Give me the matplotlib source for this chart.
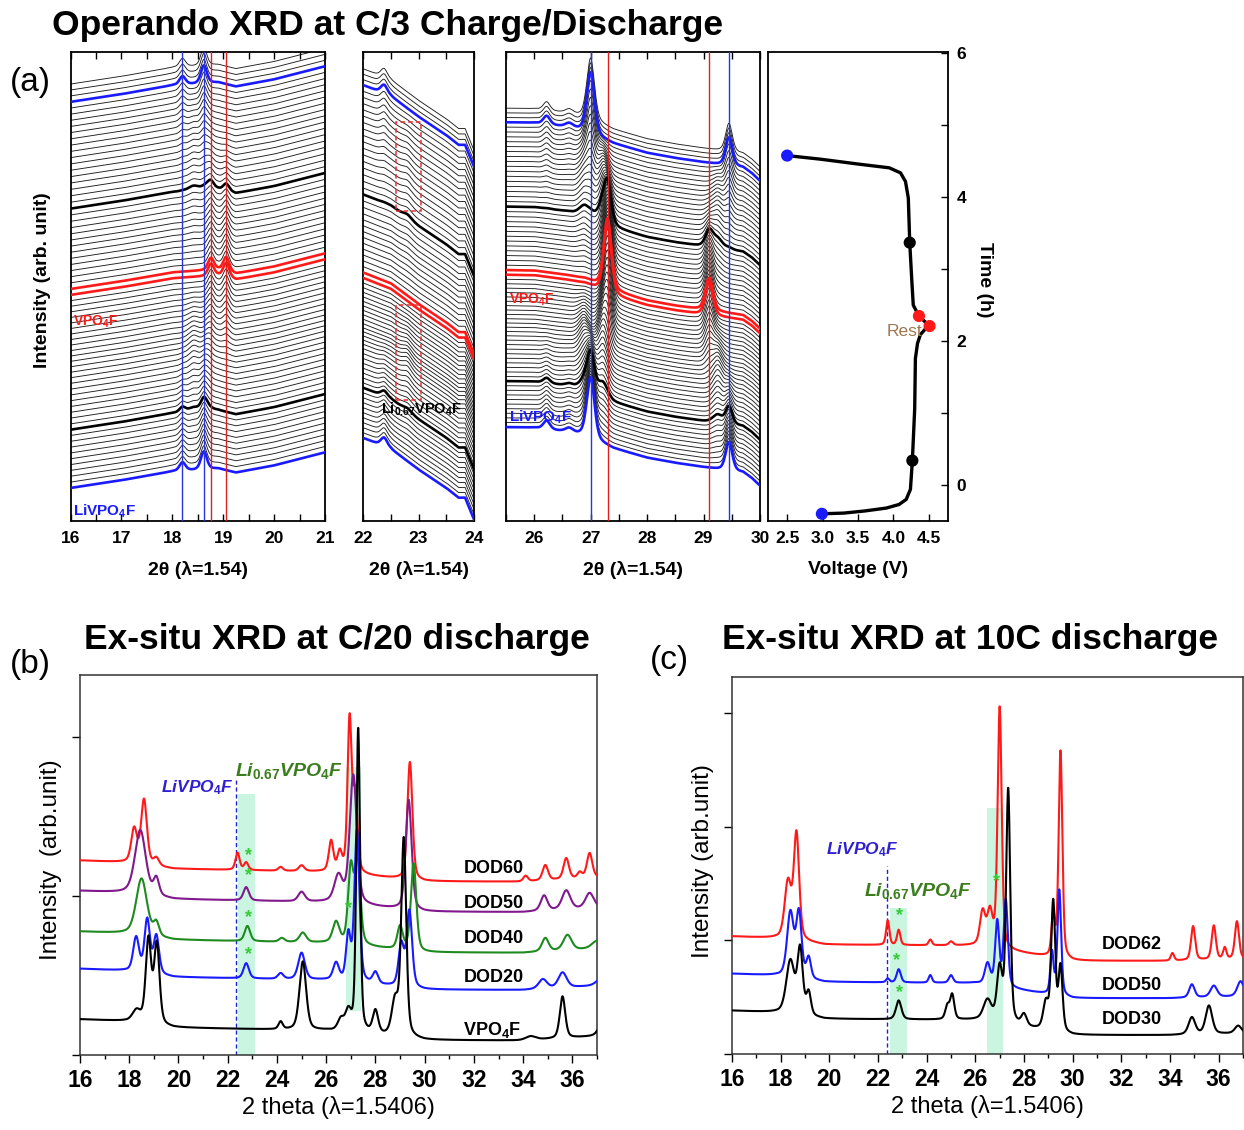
import numpy as np
import matplotlib
matplotlib.use('Agg')
import matplotlib.pyplot as plt
from matplotlib.ticker import MultipleLocator, FormatStrFormatter
from matplotlib.patches import Rectangle

plt.rcParams['font.family'] = ['Liberation Sans', 'DejaVu Sans']
plt.rcParams['font.weight'] = 'bold'
plt.rcParams['axes.labelweight'] = 'bold'
plt.rcParams['mathtext.fontset'] = 'custom'
plt.rcParams['mathtext.rm'] = 'Liberation Sans:bold'
plt.rcParams['mathtext.it'] = 'Liberation Sans:italic:bold'
plt.rcParams['mathtext.bf'] = 'Liberation Sans:bold'

# ---------------- operando scans (phase fractions per scan) ----------------
frac_A = [1.00, 0.97, 0.94, 0.90, 0.86, 0.82, 0.78, 0.74, 0.70, 0.66,
          0.62, 0.57, 0.52, 0.47, 0.42, 0.37, 0.32, 0.27, 0.22, 0.17,
          0.12, 0.08, 0.05, 0.02, 0, 0, 0, 0, 0, 0,
          0, 0, 0, 0, 0, 0, 0, 0, 0, 0,
          0, 0, 0, 0, 0, 0, 0.02, 0.04, 0.06, 0.08,
          0.11, 0.14, 0.18, 0.22, 0.27, 0.32, 0.38, 0.44, 0.51, 0.58,
          0.65, 0.72, 0.79, 0.86, 0.93, 1.0, 1.0, 1.0, 1.0]
frac_B = [0, 0.03, 0.06, 0.10, 0.14, 0.18, 0.22, 0.26, 0.30, 0.34,
          0.38, 0.43, 0.48, 0.53, 0.58, 0.63, 0.68, 0.73, 0.78, 0.80,
          0.80, 0.78, 0.74, 0.68, 0.62, 0.55, 0.48, 0.41, 0.34, 0.27,
          0.20, 0.14, 0.08, 0.03, 0, 0, 0.03, 0.06, 0.09, 0.12,
          0.15, 0.18, 0.21, 0.24, 0.28, 0.32, 0.36, 0.40, 0.44, 0.48,
          0.52, 0.55, 0.57, 0.58, 0.58, 0.57, 0.54, 0.50, 0.45, 0.40,
          0.35, 0.28, 0.21, 0.14, 0.07, 0, 0, 0, 0]
frac_C = [0, 0, 0, 0, 0, 0, 0, 0, 0, 0,
          0, 0, 0, 0, 0, 0, 0, 0, 0, 0.03,
          0.08, 0.14, 0.21, 0.30, 0.38, 0.45, 0.52, 0.59, 0.66, 0.73,
          0.80, 0.86, 0.92, 0.97, 1.0, 1.0, 0.97, 0.94, 0.91, 0.88,
          0.85, 0.82, 0.79, 0.76, 0.72, 0.68, 0.62, 0.56, 0.50, 0.44,
          0.37, 0.31, 0.25, 0.20, 0.15, 0.11, 0.08, 0.06, 0.04, 0.02,
          0, 0, 0, 0, 0, 0, 0, 0, 0]
blue_scans = [0, 65]
black_scans = [10, 48]
red_scans = [34, 35]

# 16-21 deg window: background knots, peaks (pos, height, hwhm) per phase, phase level
base1_x = [16, 17, 18, 18.9, 19.25, 20, 21]
base1_y = [0, 1.3, 2.8, 3.3, 2.6, 3.8, 6.0]
peaks1 = {'A': ([18.20, 18.62], [1.4, 3.0], [0.07, 0.07]),
          'B': ([18.42, 18.70], [1.8, 1.6], [0.12, 0.10]),
          'C': ([18.76, 19.06], [2.0, 2.4], [0.07, 0.07])}
level1 = {'A': 0.0, 'B': -0.5, 'C': -1.5}

# 22-24 deg window
base2_x = [22, 22.2, 22.5, 23.0, 23.5, 23.72, 23.84, 23.95, 24.0]
base2_y = [0, -0.8, -2.0, -5.8, -9.2, -11.0, -11.0, -13.8, -15.0]
peaks2 = {'A': ([22.38], [1.6], [0.07]),
          'B': ([22.80], [1.4], [0.09]),
          'C': ([], [], [])}
level2 = {'A': 0.0, 'B': -2.0, 'C': -4.5}

# 25.5-30 deg window
base3_x = [25.5, 26.0, 26.5, 26.9, 27.4, 28.0, 28.5, 29.0, 29.7, 29.85, 30.0]
base3_y = [0, -0.1, -0.9, -1.8, -4.5, -6.5, -7.6, -8.5, -9.6, -10.8, -12.5]
peaks3 = {'A': ([26.22, 26.62, 27.00, 29.45], [1.8, 0.9, 13.0, 6.0], [0.07, 0.08, 0.08, 0.07]),
          'B': ([26.88, 27.22, 29.25], [4.0, 8.0, 4.5], [0.10, 0.10, 0.10]),
          'C': ([27.30, 29.10], [15.0, 7.0], [0.08, 0.08])}
level3 = {'A': 0.0, 'B': -0.5, 'C': -1.5}

lines1_blue = [18.20, 18.62]
lines1_red = [18.76, 19.06]
lines3_blue = [27.00, 29.45]
lines3_red = [27.30, 29.10]

# Li0.67VPO4F boxes in the 22-24 window: (x0, x1, y0, y1)
box_charge = (22.6, 23.05, 7.0, 24.5)
box_discharge = (22.6, 23.05, 41.8, 58.2)

# voltage profile
volt = [2.99, 3.3, 3.6, 3.9, 4.08, 4.18, 4.24, 4.267, 4.30, 4.31, 4.34, 4.38, 4.45, 4.51,
        4.36, 4.28, 4.26, 4.23, 4.21, 4.17, 4.10, 3.94, 3.52, 2.97, 2.5]
time_h = [-0.40, -0.39, -0.36, -0.32, -0.27, -0.20, -0.06, 0.34, 1.06, 1.76, 1.97, 2.09, 2.17, 2.21,
          2.35, 2.50, 2.83, 3.37, 3.99, 4.22, 4.34, 4.41, 4.46, 4.53, 4.58]
mark_v = [2.99, 4.267, 4.51, 4.36, 4.23, 2.5]
mark_t = [-0.40, 0.34, 2.21, 2.35, 3.37, 4.58]
mark_c = ['#1a1aff', 'black', '#ff1a1a', '#ff1a1a', 'black', '#1a1aff']

# ---------------- ex-situ, C/20 ----------------
b_names = [r'$\mathrm{VPO_4F}$', 'DOD20', 'DOD40', 'DOD50', 'DOD60']
b_colors = ['black', '#1a1aff', '#1f8a1f', '#80198c', '#ff1a1a']
b_offset = [0.094, 0.227, 0.325, 0.432, 0.512]
b_label_y = [0.067, 0.205, 0.307, 0.40, 0.49]
b_shape_x = [16, 17.8, 19.8, 26, 30, 34, 37]
b_shape_y = [0, -0.005, -0.022, -0.030, -0.055, -0.056, -0.045]
b_pos = [[18.3, 18.78, 19.12, 24.15, 25.05, 26.6, 26.9, 27.3, 28.0, 28.8, 29.15, 34.3, 35.6, 37.3],
         [18.28, 18.73, 19.1, 22.75, 24.15, 25.0, 26.4, 26.9, 27.25, 28.0, 29.05, 29.38, 34.8, 35.6, 37.2],
         [18.5, 19.1, 22.8, 24.2, 25.05, 26.4, 27.0, 27.28, 29.0, 29.55, 34.9, 35.8, 37.0],
         [18.45, 19.1, 22.75, 25.0, 26.5, 27.1, 29.35, 34.85, 35.75, 36.7],
         [18.2, 18.6, 19.1, 22.4, 22.75, 24.15, 25.0, 26.2, 26.55, 26.95, 27.18, 29.4,
          34.1, 34.9, 35.75, 36.3, 36.7]]
b_hgt = [[0.03, 0.22, 0.21, 0.02, 0.18, 0.03, 0.05, 0.80, 0.06, 0.09, 0.52, 0.01, 0.11, 0.06],
         [0.09, 0.14, 0.10, 0.04, 0.015, 0.07, 0.045, 0.12, 0.40, 0.03, 0.11, 0.20, 0.025, 0.04, 0.02],
         [0.15, 0.035, 0.04, 0.01, 0.025, 0.055, 0.20, 0.22, 0.06, 0.23, 0.035, 0.04, 0.02],
         [0.17, 0.045, 0.035, 0.025, 0.07, 0.34, 0.29, 0.04, 0.05, 0.04],
         [0.09, 0.17, 0.02, 0.045, 0.02, 0.01, 0.015, 0.08, 0.05, 0.40, 0.20, 0.31,
          0.015, 0.04, 0.055, 0.015, 0.065]]
b_wid = [[0.2, 0.13, 0.13, 0.1, 0.16, 0.15, 0.14, 0.09, 0.13, 0.16, 0.12, 0.25, 0.13, 0.2],
         [0.14, 0.13, 0.13, 0.13, 0.13, 0.16, 0.14, 0.11, 0.12, 0.13, 0.13, 0.13, 0.2, 0.2, 0.25],
         [0.26, 0.13, 0.13, 0.13, 0.16, 0.16, 0.13, 0.13, 0.13, 0.13, 0.16, 0.2, 0.25],
         [0.26, 0.13, 0.13, 0.16, 0.2, 0.17, 0.14, 0.16, 0.2, 0.2],
         [0.14, 0.14, 0.13, 0.1, 0.1, 0.11, 0.13, 0.11, 0.11, 0.1, 0.11, 0.12,
          0.11, 0.13, 0.13, 0.11, 0.13]]
b_star_x = [22.85, 22.85, 22.85, 22.85, 26.9]
b_star_y = [0.525, 0.472, 0.361, 0.263, 0.386]
b_bands = [(22.4, 23.1, 0.0, 0.688), (26.8, 27.4, 0.116, 0.757)]
b_dash = (22.35, 0.726)

# ---------------- ex-situ, 10C ----------------
c_names = ['DOD30', 'DOD50', 'DOD62']
c_colors = ['black', '#1a1aff', '#ff1a1a']
c_offset = [0.115, 0.213, 0.312]
c_label_y = [0.092, 0.182, 0.29]
c_shape_x = [16, 17.8, 19.8, 26, 30, 34, 37]
c_shape_y = [0, -0.005, -0.022, -0.025, -0.065, -0.065, -0.060]
c_pos = [[18.4, 18.8, 19.15, 22.85, 24.85, 25.05, 26.5, 27.0, 27.35, 28.0, 28.9, 29.2, 29.5, 34.9, 35.6, 36.8],
         [18.4, 18.75, 19.15, 22.4, 22.85, 24.15, 25.0, 26.5, 26.9, 27.25, 29.15, 29.45, 34.9, 35.8, 36.9],
         [18.3, 18.65, 22.4, 22.85, 24.15, 25.0, 26.3, 26.6, 27.0, 29.2, 29.5, 34.1, 34.95, 35.8, 36.25, 36.75]]
c_hgt = [[0.14, 0.17, 0.06, 0.05, 0.035, 0.065, 0.055, 0.14, 0.62, 0.03, 0.07, 0.34, 0.17, 0.045, 0.075, 0.02],
         [0.17, 0.17, 0.055, 0.01, 0.035, 0.02, 0.02, 0.055, 0.17, 0.23, 0.11, 0.28, 0.035, 0.03, 0.04],
         [0.15, 0.28, 0.065, 0.04, 0.015, 0.01, 0.09, 0.09, 0.64, 0.11, 0.55, 0.02, 0.09, 0.09, 0.03, 0.10]]
c_wid = [[0.2, 0.13, 0.11, 0.13, 0.1, 0.1, 0.2, 0.13, 0.1, 0.13, 0.13, 0.1, 0.1, 0.16, 0.16, 0.16],
         [0.16, 0.13, 0.11, 0.08, 0.1, 0.08, 0.1, 0.13, 0.1, 0.1, 0.08, 0.09, 0.13, 0.16, 0.16],
         [0.16, 0.13, 0.08, 0.08, 0.08, 0.1, 0.13, 0.13, 0.1, 0.08, 0.09, 0.08, 0.1, 0.1, 0.08, 0.1]]
c_star_x = [22.87, 22.77, 22.9, 26.86]
c_star_y = [0.366, 0.249, 0.164, 0.456]
c_bands = [(22.49, 23.18, 0.0, 0.388), (26.49, 27.14, 0.0, 0.653)]
c_dash = (22.35, 0.50)


def pvoigt(x, pos, hgt, wid, eta):
    out = np.zeros_like(x)
    for c, h, w in zip(pos, hgt, wid):
        d = ((x - c) / w) ** 2
        out += h * (eta / (1 + d) + (1 - eta) * np.exp(-np.log(2) * d))
    return out


def draw_operando(ax, xlim, bx, by, peaks, level):
    x = np.linspace(xlim[0], xlim[1], 1200)
    base = np.interp(x, bx, by)
    prof = {ph: level[ph] + pvoigt(x, *peaks[ph], eta=0.35) for ph in 'ABC'}
    for i in range(len(frac_A)):
        y = i + base + frac_A[i] * prof['A'] + frac_B[i] * prof['B'] + frac_C[i] * prof['C']
        if i in blue_scans:
            ax.plot(x, y, color='#1a1aff', lw=1.9, zorder=4)
        elif i in red_scans:
            ax.plot(x, y, color='#ff1a1a', lw=1.9, zorder=4)
        elif i in black_scans:
            ax.plot(x, y, color='black', lw=1.9, zorder=4)
        else:
            ax.plot(x, y, color='#1e1e1e', lw=0.65, zorder=2)
    ax.set_xlim(*xlim)
    ax.xaxis.set_major_locator(MultipleLocator(1))
    ax.xaxis.set_minor_locator(MultipleLocator(0.5))
    ax.tick_params(axis='x', which='both', direction='in', top=True, bottom=True,
                   length=5, width=1, labelsize=12.5, pad=7)
    ax.set_yticks([])
    for s in ax.spines.values():
        s.set_linewidth(1.3)
    ax.set_xlabel('2θ (λ=1.54)', fontsize=14, labelpad=11)


def draw_exsitu(ax, offsets, sx, sy, pos, hgt, wid, colors):
    x = np.linspace(16, 37, 3000)
    shape = np.interp(x, sx, sy)
    for k in reversed(range(len(offsets))):
        y = offsets[k] + shape + pvoigt(x, pos[k], hgt[k], wid[k], eta=0.4)
        ax.plot(x, y, color=colors[k], lw=1.5, zorder=3)
    ax.set_xlim(16, 37)
    ax.set_ylim(0, 1)
    ax.xaxis.set_major_locator(MultipleLocator(2))
    ax.xaxis.set_minor_locator(MultipleLocator(1))
    ax.tick_params(axis='x', which='major', direction='out', length=6, width=1,
                   labelsize=16.5, pad=4)
    ax.tick_params(axis='x', which='minor', direction='out', length=3, width=1)
    ax.tick_params(axis='y', direction='out', length=6, width=1, labelleft=False)
    for s in ax.spines.values():
        s.set_linewidth(1.1)
        s.set_color('#333333')
    ax.set_xlabel('2 theta (λ=1.5406)', fontsize=17, fontweight='normal', labelpad=3)


fig = plt.figure(figsize=(12.44, 11.3), dpi=100)
W, H = 1244, 1130


def box(x0, y0, x1, y1):
    return [x0 / W, 1 - y1 / H, (x1 - x0) / W, (y1 - y0) / H]


# ---------------- (a) operando ----------------
ax1 = fig.add_axes(box(70.5, 52, 325, 521))
draw_operando(ax1, (16, 21), base1_x, base1_y, peaks1, level1)
ax1.set_ylim(-5.56, 73.4)
for xv in lines1_blue:
    ax1.axvline(xv, color='#2a35e0', lw=1, zorder=5)
for xv in lines1_red:
    ax1.axvline(xv, color='#e02020', lw=1, zorder=5)
ax1.text(16.05, 27.9, r'$\mathrm{VPO_4F}$', color='#ff1a1a', fontsize=10, va='center', zorder=6)
ax1.text(16.05, -4.0, r'$\mathrm{LiVPO_4F}$', color='#1a1aff', fontsize=11, va='center', zorder=6)

ax2 = fig.add_axes(box(363, 52, 474, 521))
draw_operando(ax2, (22, 24), base2_x, base2_y, peaks2, level2)
ax2.set_ylim(-15.3, 71.1)
for bx0, bx1, by0, by1 in (box_charge, box_discharge):
    ax2.add_patch(Rectangle((bx0, by0), bx1 - bx0, by1 - by0, fill=False,
                            ec='#e83030', lw=1.1, ls=(0, (3, 2)), zorder=6))
ax2.text(23.05, 5.2, r'$\mathrm{Li_{0.67}VPO_4F}$', color='black', fontsize=10.5,
         ha='center', va='center', zorder=6)

ax3 = fig.add_axes(box(506, 52, 760, 521))
draw_operando(ax3, (25.5, 30), base3_x, base3_y, peaks3, level3)
ax3.set_ylim(-20, 80)
for xv in lines3_blue:
    ax3.axvline(xv, color='#2a35e0', lw=1, zorder=5)
for xv in lines3_red:
    ax3.axvline(xv, color='#e02020', lw=1, zorder=5)
ax3.text(25.55, 27.1, r'$\mathrm{VPO_4F}$', color='#ff1a1a', fontsize=10, va='center', zorder=6)
ax3.text(25.55, 2.1, r'$\mathrm{LiVPO_4F}$', color='#1a1aff', fontsize=11, va='center', zorder=6)

ax4 = fig.add_axes(box(768, 52, 948, 521))
ax4.plot(volt, time_h, color='black', lw=2.4, zorder=2)
ax4.scatter(mark_v, mark_t, c=mark_c, s=60, zorder=3)
ax4.text(4.40, 2.13, 'Rest', color='#a07850', fontsize=12.5, fontweight='normal',
         ha='right', va='center')
ax4.set_xlim(2.23, 4.77)
ax4.set_ylim(-0.5, 6.02)
ax4.xaxis.set_major_locator(MultipleLocator(0.5))
ax4.xaxis.set_major_formatter(FormatStrFormatter('%.1f'))
ax4.yaxis.tick_right()
ax4.yaxis.set_major_locator(MultipleLocator(2))
ax4.yaxis.set_minor_locator(MultipleLocator(1))
ax4.tick_params(axis='x', direction='in', length=5, width=1, labelsize=12.5, pad=7)
ax4.tick_params(axis='y', which='both', direction='in', length=5, width=1,
                right=True, left=False, labelsize=12.5, pad=6)
for s in ax4.spines.values():
    s.set_linewidth(1.3)
ax4.set_xlabel('Voltage (V)', fontsize=14, labelpad=11)
fig.text(985 / W, 1 - 280 / H, 'Time (h)', rotation=270, fontsize=14,
         ha='center', va='center')

fig.text(43 / W, 1 - 280 / H, 'Intensity (arb. unit)', rotation=90, fontsize=14,
         ha='center', va='center')
fig.text(52 / W, 1 - 25 / H, 'Operando XRD at C/3 Charge/Discharge', fontsize=25.5,
         ha='left', va='center')
fig.text(10 / W, 1 - 82 / H, '(a)', fontsize=24, fontweight='normal', ha='left', va='center')

# ---------------- (b) ex-situ C/20 ----------------
axb = fig.add_axes(box(80, 675, 597, 1055))
for x0, x1, y0, y1 in b_bands:
    axb.add_patch(Rectangle((x0, y0), x1 - x0, y1 - y0, color='#c9f5e1', lw=0, zorder=1))
axb.plot([b_dash[0], b_dash[0]], [0, b_dash[1]], color='#2222cc', lw=1, ls=(0, (3, 2)), zorder=2)
draw_exsitu(axb, b_offset, b_shape_x, b_shape_y, b_pos, b_hgt, b_wid, b_colors)
axb.set_yticks([0, 0.418, 0.836])
for sx, sy in zip(b_star_x, b_star_y):
    axb.text(sx, sy, '*', color='#33cc33', fontsize=13, ha='center', va='center', zorder=5)
for nm, ly in zip(b_names, b_label_y):
    axb.text(31.57, ly, nm, fontsize=13, ha='left', va='center', zorder=5)
axb.text(20.75, 0.703, r'$LiVPO_4F$', color='#3020d0', fontsize=12.5, ha='center', va='center')
axb.text(24.47, 0.748, r'$Li_{0.67}VPO_4F$', color='#3a7d1c', fontsize=14, ha='center', va='center')
fig.text(51 / W, 1 - 860 / H, 'Intensity  (arb.unit)', rotation=90, fontsize=17.5,
         fontweight='normal', ha='center', va='center')
fig.text(84 / W, 1 - 640 / H, 'Ex-situ XRD at C/20 discharge', fontsize=25.5,
         ha='left', va='center')
fig.text(10 / W, 1 - 665 / H, '(b)', fontsize=24, fontweight='normal', ha='left', va='center')

# ---------------- (c) ex-situ 10C ----------------
axc = fig.add_axes(box(732, 677, 1243, 1054))
for x0, x1, y0, y1 in c_bands:
    axc.add_patch(Rectangle((x0, y0), x1 - x0, y1 - y0, color='#c9f5e1', lw=0, zorder=1))
axc.plot([c_dash[0], c_dash[0]], [0, c_dash[1]], color='#2222cc', lw=1, ls=(0, (3, 2)), zorder=2)
draw_exsitu(axc, c_offset, c_shape_x, c_shape_y, c_pos, c_hgt, c_wid, c_colors)
axc.set_yticks([0, 0.302, 0.601, 0.905])
for sx, sy in zip(c_star_x, c_star_y):
    axc.text(sx, sy, '*', color='#33cc33', fontsize=13, ha='center', va='center', zorder=5)
for nm, ly in zip(c_names, c_label_y):
    axc.text(31.2, ly, nm, fontsize=13, ha='left', va='center', zorder=5)
axc.text(21.35, 0.541, r'$LiVPO_4F$', color='#3020d0', fontsize=12.5, ha='center', va='center')
axc.text(23.65, 0.433, r'$Li_{0.67}VPO_4F$', color='#3a7d1c', fontsize=14, ha='center', va='center')
fig.text(703 / W, 1 - 861 / H, 'Intensity (arb.unit)', rotation=90, fontsize=17.5,
         fontweight='normal', ha='center', va='center')
fig.text(722 / W, 1 - 640 / H, 'Ex-situ XRD at 10C discharge', fontsize=25.5,
         ha='left', va='center')
fig.text(650 / W, 1 - 660 / H, '(c)', fontsize=24, fontweight='normal', ha='left', va='center')

fig.savefig('out.png', dpi=100)
